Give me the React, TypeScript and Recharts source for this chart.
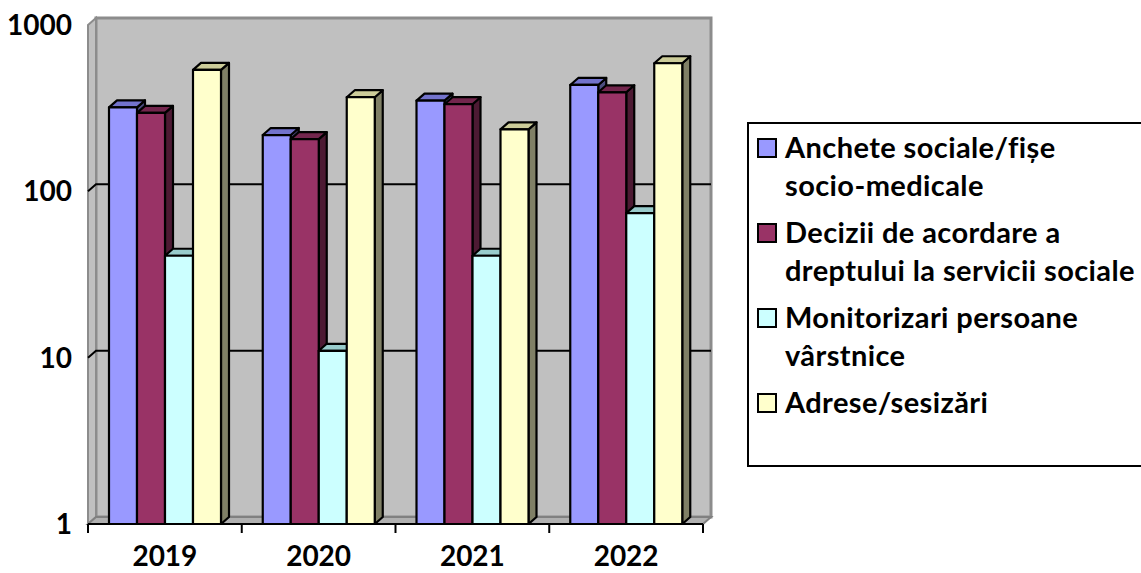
import React from 'react';
import { BarChart, Bar, XAxis, YAxis, ReferenceArea, ReferenceLine } from 'recharts';

// Values per year, read on a log axis
const years = ['2019', '2020', '2021', '2022'];
const anchete = [320, 218, 351, 436];
const decizii = [296, 206, 334, 394];
const monitorizari = [41, 11, 41, 74];
const adrese = [537, 368, 236, 589];

const seriesKeys = ['anchete', 'decizii', 'monitorizari', 'adrese'];
const seriesNames = [
  'Anchete sociale/fișe\nsocio-medicale',
  'Decizii de acordare a\ndreptului la servicii sociale',
  'Monitorizari persoane\nvârstnice',
  'Adrese/sesizări',
];
const yTicks = [1, 10, 100, 1000];
const gridValues = [10, 100];

// front / top / side shades for the 3D columns
const palette = [
  { front: '#9999FF', top: '#7373CC', side: '#4D4D80' },
  { front: '#993366', top: '#73264D', side: '#4D1A33' },
  { front: '#CCFFFF', top: '#99CCCC', side: '#668080' },
  { front: '#FFFFCC', top: '#CCCC99', side: '#808066' },
];

const data = years.map((year, i) => ({
  year,
  anchete: anchete[i],
  decizii: decizii[i],
  monitorizari: monitorizari[i],
  adrese: adrese[i],
}));

// depth offset of the 3D box
const DX = 8;
const DY = 7;
const FONT = 'Lato, "Open Sans", sans-serif';
const EDGE = { stroke: '#000', strokeWidth: 2.2, strokeLinejoin: 'round' as const };

const makeBar3D = (c: { front: string; top: string; side: string }) => (props: any) => {
  const { x, y, width: w, height: h } = props;
  if (!h || h <= 0) return <g />;
  return (
    <g>
      <polygon
        points={`${x + w},${y} ${x + w + DX},${y - DY} ${x + w + DX},${y + h - DY} ${x + w},${y + h}`}
        fill={c.side}
        {...EDGE}
      />
      <polygon
        points={`${x},${y} ${x + DX},${y - DY} ${x + w + DX},${y - DY} ${x + w},${y}`}
        fill={c.top}
        {...EDGE}
      />
      <rect x={x} y={y} width={w} height={h} fill={c.front} {...EDGE} />
    </g>
  );
};

// back wall, left wall and floor
const Walls = (props: any) => {
  const { x, y, width: w, height: h } = props;
  const b = y + h;
  return (
    <g>
      <rect x={x + DX} y={y - DY} width={w} height={h} fill="#C0C0C0" stroke="#8C8C8C" strokeWidth={3} />
      <polygon
        points={`${x},${y} ${x + DX},${y - DY} ${x + DX},${b - DY} ${x},${b}`}
        fill="#C0C0C0"
        stroke="#8C8C8C"
        strokeWidth={2}
      />
      <polygon
        points={`${x},${b} ${x + DX},${b - DY} ${x + w + DX},${b - DY} ${x + w},${b}`}
        fill="#B0B0B0"
        stroke="#808080"
        strokeWidth={2}
      />
    </g>
  );
};

const BackGridLine = (props: any) => {
  const { x1, y1, x2, y2 } = props;
  return (
    <polyline
      points={`${x1},${y1} ${x1 + DX},${y1 - DY} ${x2 + DX},${y2 - DY}`}
      fill="none"
      stroke="#000"
      strokeWidth={2}
    />
  );
};

// short tick below the axis at a category boundary
const BoundaryTick = (props: any) => {
  const { x1, y1, y2 } = props;
  const bottom = Math.max(y1, y2);
  return <line x1={x1} y1={bottom} x2={x1} y2={bottom + 9} stroke="#000" strokeWidth={2} />;
};

const tickStyle = { fill: '#000', fontSize: 28, fontWeight: 700, fontFamily: FONT };

const LegendBox = () => (
  <div
    style={{
      position: 'absolute',
      left: 747,
      top: 122,
      width: 420,
      height: 345,
      border: '2px solid #000',
      boxSizing: 'border-box',
      paddingTop: 4,
      paddingLeft: 8,
      fontFamily: FONT,
      fontWeight: 700,
      fontSize: 29,
      letterSpacing: 0.4,
      lineHeight: '38px',
      color: '#000',
    }}
  >
    {seriesNames.map((name, i) => (
      <div key={name} style={{ display: 'flex', alignItems: 'flex-start', marginBottom: 9 }}>
        <div
          style={{
            width: 20,
            height: 20,
            marginTop: 10,
            marginRight: 8,
            border: '2px solid #000',
            boxSizing: 'border-box',
            background: palette[i].front,
            flexShrink: 0,
          }}
        />
        <div style={{ whiteSpace: 'pre-line' }}>{name}</div>
      </div>
    ))}
  </div>
);

export default function App() {
  return (
    <div style={{ position: 'relative', width: 1141, height: 573, overflow: 'hidden', background: '#fff' }}>
      <style>{'body{margin:0}'}</style>
      <BarChart
        width={1141}
        height={573}
        data={data}
        margin={{ top: 25, right: 438, bottom: 0, left: 0 }}
        barCategoryGap={21}
        barGap={0}
      >
        <XAxis
          dataKey="year"
          height={49}
          axisLine={{ stroke: '#000', strokeWidth: 2 }}
          tickLine={false}
          tickSize={8}
          tickMargin={14}
          tick={tickStyle}
        />
        <YAxis
          scale="log"
          domain={[1, 1000]}
          ticks={yTicks}
          interval={0}
          allowDataOverflow
          width={88}
          axisLine={false}
          tickLine={false}
          tickSize={0}
          tickMargin={16}
          tick={tickStyle}
        />
        <ReferenceArea y1={1} y2={1000} shape={Walls} zIndex={-20} />
        {gridValues.map((v) => (
          <ReferenceLine key={v} y={v} shape={BackGridLine} zIndex={-10} />
        ))}
        {years.map((year) => (
          <ReferenceLine key={year} x={year} position="start" shape={BoundaryTick} />
        ))}
        <ReferenceLine x={years[years.length - 1]} position="end" shape={BoundaryTick} />
        {seriesKeys.map((key, i) => (
          <Bar
            key={key}
            dataKey={key}
            fill={palette[i].front}
            shape={makeBar3D(palette[i])}
            isAnimationActive={false}
          />
        ))}
      </BarChart>
      <LegendBox />
    </div>
  );
}
